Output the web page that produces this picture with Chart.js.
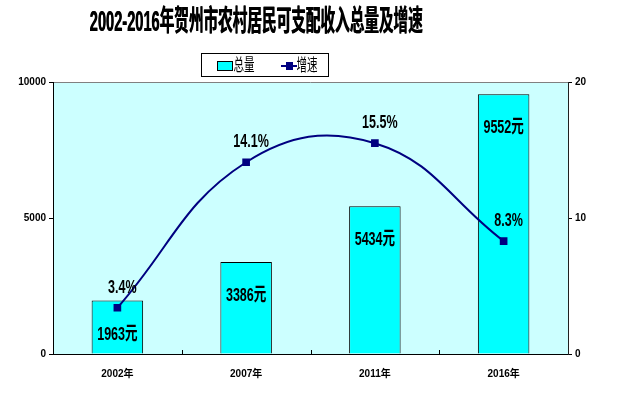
<!DOCTYPE html>
<html>
<head>
<meta charset="utf-8">
<script src="https://cdn.jsdelivr.net/npm/chart.js@4.4.1/dist/chart.umd.min.js"></script>
<style>
  html, body { margin: 0; padding: 0; background: #fff; }
  #wrap { width: 618px; height: 398px; }
</style>
</head>
<body>
<div id="wrap"><canvas id="c" width="618" height="398"></canvas></div>
<script>
// data
const years = ['2002年', '2007年', '2011年', '2016年'];
const income = [1963, 3386, 5434, 9552];     // 总量 (元)
const growth = [3.4, 14.1, 15.5, 8.3];        // 增速 (%)
const leftTicks = [0, 5000, 10000];
const rightTicks = [0, 10, 20];

const titleText = '2002-2016年贺州市农村居民可支配收入总量及增速';
const narrow = "'Liberation Sans Narrow', 'Arial Narrow', 'Liberation Sans', 'Noto Sans CJK SC', sans-serif";
const wide = "'Liberation Sans', Arial, 'Noto Sans CJK SC', sans-serif";
const navy = '#000080';

// draw text squeezed horizontally (the source uses a condensed face)
function squeezed(ctx, text, x, y, font, sx) {
  ctx.save();
  ctx.font = font;
  ctx.translate(x, y);
  ctx.scale(sx, 1);
  ctx.textAlign = 'center';
  ctx.textBaseline = 'middle';
  ctx.fillStyle = '#000';
  ctx.fillText(text, 0, 0);
  ctx.restore();
}

const decor = {
  id: 'decor',
  beforeDraw(chart) {
    const { ctx, chartArea: a } = chart;
    ctx.save();
    ctx.fillStyle = '#CCFFFF';
    ctx.fillRect(a.left, a.top, a.right - a.left, a.bottom - a.top);
    ctx.strokeStyle = '#808080';
    ctx.lineWidth = 1;
    ctx.beginPath();
    ctx.moveTo(a.left, a.top + 0.5);
    ctx.lineTo(a.right, a.top + 0.5);
    ctx.stroke();
    ctx.restore();
  },
  afterDraw(chart) {
    const { ctx, chartArea: a } = chart;
    const xs = chart.scales.x;

    // title
    const tFont = 'bold 29px ' + wide;
    ctx.save();
    ctx.font = tFont;
    const tw = ctx.measureText(titleText).width;
    ctx.restore();
    squeezed(ctx, titleText, 256, 23, tFont, 333 / tw);
    squeezed(ctx, titleText, 256.6, 23, tFont, 333 / tw);

    // small inner tick marks between categories
    ctx.save();
    ctx.strokeStyle = '#000';
    ctx.lineWidth = 1;
    for (let i = 0; i < years.length - 1; i++) {
      const bx = Math.round((xs.getPixelForValue(i) + xs.getPixelForValue(i + 1)) / 2) + 0.5;
      ctx.beginPath();
      ctx.moveTo(bx, a.bottom);
      ctx.lineTo(bx, a.bottom - 4);
      ctx.stroke();
    }
    ctx.restore();

    // legend box
    ctx.save();
    ctx.fillStyle = '#fff';
    ctx.fillRect(201, 53, 127, 23);
    ctx.strokeStyle = '#000';
    ctx.lineWidth = 1;
    ctx.strokeRect(201.5, 53.5, 127, 23);
    ctx.fillStyle = '#00FFFF';
    ctx.fillRect(217, 61, 16, 10);
    ctx.strokeRect(217.5, 61.5, 15, 9);
    ctx.strokeStyle = navy;
    ctx.lineWidth = 2;
    ctx.beginPath();
    ctx.moveTo(281, 66);
    ctx.lineTo(297, 66);
    ctx.stroke();
    ctx.fillStyle = navy;
    ctx.fillRect(286, 62, 7, 8);
    ctx.restore();
    squeezed(ctx, '总量', 244, 66, '17px ' + wide, 0.62);
    squeezed(ctx, '增速', 307, 66, '17px ' + wide, 0.62);

    // data labels
    const barMeta = chart.getDatasetMeta(0);
    const lineMeta = chart.getDatasetMeta(1);
    const lFont = 'bold 19px ' + wide;
    barMeta.data.forEach((bar, i) => {
      squeezed(ctx, income[i] + '元', bar.x, bar.y + 34, lFont, 0.66);
    });
    lineMeta.data.forEach((pt, i) => {
      squeezed(ctx, growth[i].toFixed(1) + '%', pt.x + 5, pt.y - 20, lFont, 0.66);
    });
  }
};

new Chart(document.getElementById('c'), {
  type: 'bar',
  data: {
    labels: years,
    datasets: [
      {
        type: 'bar',
        label: '总量',
        data: income,
        yAxisID: 'y',
        backgroundColor: '#00FFFF',
        borderColor: '#000',
        borderWidth: 1,
        barPercentage: 0.4,
        categoryPercentage: 1,
        order: 2
      },
      {
        type: 'line',
        label: '增速',
        data: growth,
        yAxisID: 'y1',
        borderColor: navy,
        backgroundColor: navy,
        borderWidth: 2,
        tension: 0.42,
        pointStyle: 'rect',
        pointRadius: 4,
        pointHoverRadius: 4,
        order: 1
      }
    ]
  },
  options: {
    responsive: false,
    animation: false,
    layout: { padding: { top: 82, left: 0, right: 0, bottom: 0 } },
    plugins: {
      legend: { display: false },
      title: { display: false },
      tooltip: { enabled: false }
    },
    scales: {
      x: {
        grid: { display: false },
        border: { display: true, color: '#000', width: 1 },
        ticks: {
          color: '#000',
          padding: 6,
          font: { family: narrow, size: 10, weight: 'bold' }
        },
        afterFit(s) { s.height = 44; }
      },
      y: {
        position: 'left',
        min: 0,
        max: 10000,
        afterBuildTicks(s) { s.ticks = leftTicks.map(v => ({ value: v })); },
        grid: { drawOnChartArea: false, drawTicks: true, tickLength: 4, color: '#000' },
        border: { display: true, color: '#000', width: 1 },
        ticks: {
          color: '#000',
          padding: 3,
          callback: v => String(v),
          font: { family: narrow, size: 10, weight: 'bold' }
        },
        afterFit(s) { s.width = 53; }
      },
      y1: {
        position: 'right',
        min: 0,
        max: 20,
        afterBuildTicks(s) { s.ticks = rightTicks.map(v => ({ value: v })); },
        grid: { drawOnChartArea: false, drawTicks: true, tickLength: 4, color: '#000' },
        border: { display: true, color: '#202020', width: 1 },
        ticks: {
          color: '#000',
          padding: 3,
          callback: v => String(v),
          font: { family: narrow, size: 10, weight: 'bold' }
        },
        afterFit(s) { s.width = 50; }
      }
    }
  },
  plugins: [decor]
});
</script>
</body>
</html>
